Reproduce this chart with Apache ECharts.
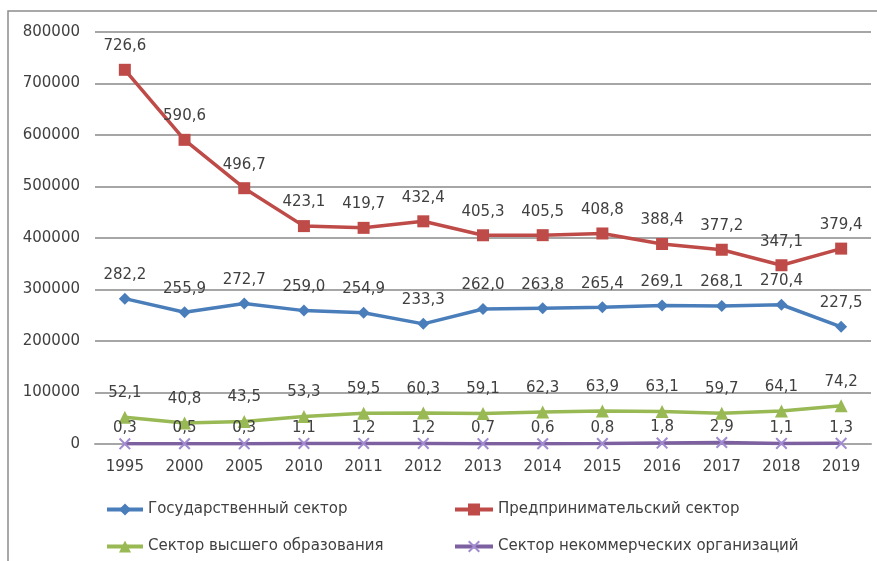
<!DOCTYPE html>
<html>
<head>
<meta charset="utf-8">
<script src="https://cdn.jsdelivr.net/npm/echarts@6/dist/echarts.min.js"></script>
<style>
    body{margin:0;background:#fff;}
    #main{width:877px;height:561px;}
</style>
</head>
<body>
<div id="main"></div>
<script>
var years = ['1995','2000','2005','2010','2011','2012','2013','2014','2015','2016','2017','2018','2019'];
var seriesNames = ['Государственный сектор','Предпринимательский сектор','Сектор высшего образования','Сектор некоммерческих организаций'];
// значения в тыс. (как на подписях), на графике умножаются на 1000
var gosValues = [282.2,255.9,272.7,259.0,254.9,233.3,262.0,263.8,265.4,269.1,268.1,270.4,227.5];
var predValues = [726.6,590.6,496.7,423.1,419.7,432.4,405.3,405.5,408.8,388.4,377.2,347.1,379.4];
var vuzValues = [52.1,40.8,43.5,53.3,59.5,60.3,59.1,62.3,63.9,63.1,59.7,64.1,74.2];
var nkoValues = [0.3,0.5,0.3,1.1,1.2,1.2,0.7,0.6,0.8,1.8,2.9,1.1,1.3];
var yTicks = [0,100000,200000,300000,400000,500000,600000,700000,800000];

var font = '"DejaVu Sans", Verdana, sans-serif';
var myChart = echarts.init(document.getElementById('main'));

function toData(arr){
    return arr.map(function(v){ return Math.round(v*1000); });
}
function fmt(p){
    return (p.value/1000).toFixed(1).replace('.', ',');
}
var xPath = 'path://M0,1.2L1.2,0L5,3.8L8.8,0L10,1.2L6.2,5L10,8.8L8.8,10L5,6.2L1.2,10L0,8.8L3.8,5Z';

function makeSeries(name, data, color, symbol, size, dist, symColor){
    return {
        name: name,
        type: 'line',
        data: toData(data),
        symbol: symbol,
        symbolSize: size,
        showAllSymbol: true,
        lineStyle: {color: color, width: 3.5},
        itemStyle: {color: symColor || color},
        label: {
            show: true,
            position: 'top',
            distance: dist,
            formatter: fmt,
            color: '#404040',
            fontFamily: font,
            fontSize: 15
        },
        animation: false
    };
}

option = {
    color: ['#4a7ebb','#be4b48','#98b954','#7d60a0'],
    grid: {left: 95, right: 6, top: 32, bottom: 117},
    graphic: [{
        type: 'rect',
        shape: {x: 8, y: 11, width: 950, height: 650},
        style: {fill: 'none', stroke: '#8c8c8c', lineWidth: 1.5},
        silent: true
    }],
    legend: [{
        orient: 'vertical',
        left: 105,
        top: 502,
        padding: 0,
        itemWidth: 36,
        itemHeight: 15,
        itemGap: 22,
        lineStyle: {width: 4},
        data: [seriesNames[0], seriesNames[2]],
        textStyle: {fontFamily: font, fontSize: 15, color: '#404040'}
    },{
        orient: 'vertical',
        left: 453,
        top: 502,
        padding: 0,
        itemWidth: 38,
        itemHeight: 15,
        itemGap: 22,
        lineStyle: {width: 4},
        data: [seriesNames[1], seriesNames[3]],
        textStyle: {fontFamily: font, fontSize: 15, color: '#404040'}
    }],
    xAxis: {
        type: 'category',
        data: years,
        boundaryGap: true,
        axisLine: {lineStyle: {color: '#a6a6a6', width: 2}},
        axisTick: {show: false},
        axisLabel: {color: '#404040', fontFamily: font, fontSize: 15, margin: 16}
    },
    yAxis: {
        type: 'value',
        min: yTicks[0],
        max: yTicks[yTicks.length-1],
        interval: 100000,
        axisLine: {show: false},
        axisTick: {show: false},
        splitLine: {lineStyle: {color: '#a6a6a6', width: 2}},
        axisLabel: {
            color: '#404040', fontFamily: font, fontSize: 15, margin: 15,
            formatter: function(v){ return String(v); }
        }
    },
    series: [
        makeSeries(seriesNames[0], gosValues, '#4a7ebb', 'diamond', 12, 10),
        makeSeries(seriesNames[1], predValues, '#be4b48', 'rect', 12, 10),
        makeSeries(seriesNames[2], vuzValues, '#98b954', 'triangle', 13, 10),
        makeSeries(seriesNames[3], nkoValues, '#7d60a0', xPath, 12, 2, '#a08ad0')
    ]
};

myChart.setOption(option);
</script>
</body>
</html>
